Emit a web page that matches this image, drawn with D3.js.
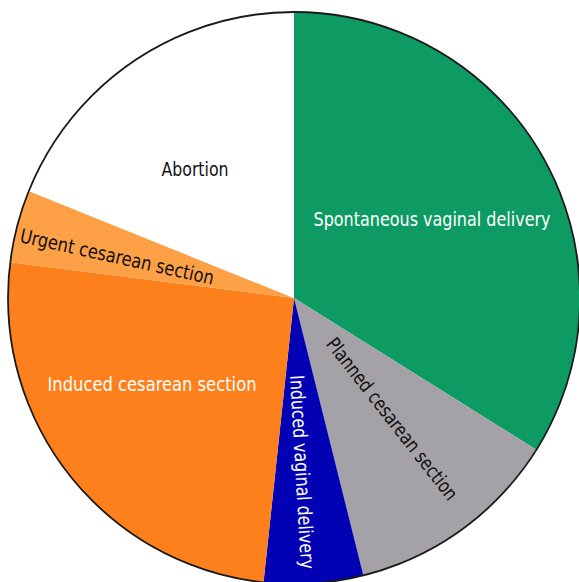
<!DOCTYPE html>
<html><head><meta charset="utf-8">
<script src="https://cdn.jsdelivr.net/npm/d3@7"></script>
<style>html,body{margin:0;padding:0;background:#fff;overflow:hidden}</style>
</head><body>
<svg id="c" width="579" height="582"></svg>
<script>
const categories = ["Spontaneous vaginal delivery","Planned cesarean section","Induced vaginal delivery","Induced cesarean section","Urgent cesarean section","Abortion"];
const values = [33.9, 12.2, 5.6, 25.3, 4.1, 18.9];
const colors = ["#0e9a63","#a4a2a6","#0202b4","#fd801d","#fda046","#ffffff"];
const labelColors = ["#ffffff","#111111","#ffffff","#ffffff","#111111","#111111"];
// label placement: [x, y, rotation, width]
const labelPos = [[432,219,0,237],[392,419,52,200],[302,472,86.7,194],[152,384,0,209],[117,257,12.5,198],[195,169,0,67]];

const cx = 294, cy = 298, r = 286;
const svg = d3.select("#c");
const g = svg.append("g").attr("transform",`translate(${cx},${cy})`);
const pie = d3.pie().sort(null).value(d=>d.v);
const data = categories.map((c,i)=>({c, v: values[i], i}));
const arc = d3.arc().innerRadius(0).outerRadius(r);
g.selectAll("path.s").data(pie(data)).join("path").attr("class","s")
  .attr("d",arc).attr("fill",d=>colors[d.data.i]);
g.append("circle").attr("r",r).attr("fill","none").attr("stroke","#1a1a1a").attr("stroke-width",1.8);

svg.selectAll("text.l").data(data).join("text").attr("class","l")
  .attr("transform",d=>`translate(${labelPos[d.i][0]},${labelPos[d.i][1]}) rotate(${labelPos[d.i][2]})`)
  .attr("text-anchor","middle").attr("dominant-baseline","central")
  .attr("font-family","'DejaVu Sans Condensed','DejaVu Sans',sans-serif")
  .attr("font-size",19.5)
  .attr("textLength",d=>labelPos[d.i][3]).attr("lengthAdjust","spacingAndGlyphs")
  .attr("fill",d=>labelColors[d.i])
  .text(d=>d.c);
</script>
</body></html>
